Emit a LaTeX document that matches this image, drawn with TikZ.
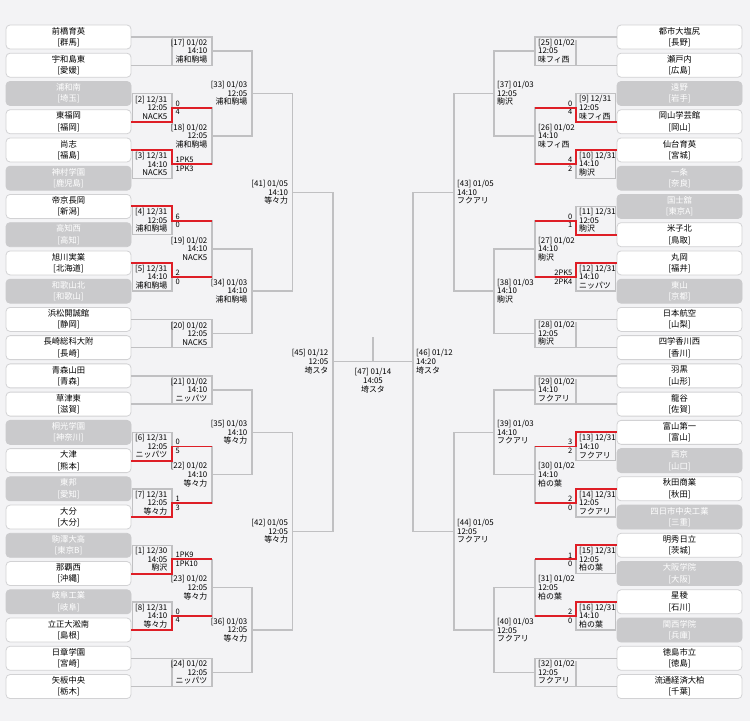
\documentclass[tikz,border=0pt]{standalone}
\usepackage{fontspec}
\newfontfamily\jp{Noto Sans CJK JP}
\usetikzlibrary{calc}
\definecolor{bg}{RGB}{243,243,245}
\definecolor{ln}{RGB}{192,192,194}
\definecolor{rd}{RGB}{222,30,38}
\definecolor{bx}{RGB}{210,210,212}
\definecolor{lose}{RGB}{202,202,204}
\pgfdeclarelayer{fg}
\pgfsetlayers{main,fg}
\newcommand\ty[1]{{37+28.24*(#1)}}
\tikzset{
 tbox/.style={draw=bx, fill=white, rounded corners=4pt, minimum width=125pt, minimum height=24pt,
   inner sep=0pt, align=center, font=\jp\fontsize{8.3}{11.3}\selectfont, line width=0.8pt},
 tlose/.style={tbox, fill=lose, draw=lose, text=white},
 gl/.style={draw=ln, line width=1.4pt},
 rl/.style={draw=rd, line width=1.9pt},
 lbl/.style={font=\jp\fontsize{7.9}{8.6}\selectfont, inner sep=0pt},
 sc/.style={font=\jp\fontsize{7.5}{8}\selectfont, inner sep=0pt}
}
% left first round: id, row a, winner row, date, time, venue, score a, score b
\newcommand\lone[8]{%
  \coordinate (m#1) at (172,\ty{#2+0.5});
  \draw[gl] ([xshift=1pt]L#2.east) rectangle (172,\ty{#2+1});
  \begin{pgfonlayer}{fg}
  \draw[rl] (L#3.east) -- (L#3.east -| m#1) -- (m#1) -- (m#1 -| xl2);
  \end{pgfonlayer}
  \node[lbl,anchor=east,align=right] (lb#1) at ([xshift=-4.5pt]m#1) {[#1] #4\\#5\\#6};
  \node[sc,anchor=south west] (sa#1) at ([xshift=3.5pt,yshift=1.2pt]m#1) {#7};
  \node[sc,anchor=north west] (sb#1) at ([xshift=3.5pt,yshift=-1.5pt]m#1) {#8};
}
\newcommand\lbye[6]{%
  \coordinate (m#1) at (212,\ty{#2+0.5});
  \draw[gl] (L#2.east) -- (L#2.east -| xl2) -- (L#3.east -| xl2) -- (L#3.east);
  \draw[gl] ([yshift=-3pt]L#2.east -| xl1) -- (L#3.east -| xl1);
  \node[lbl,anchor=east,align=right] (lb#1) at ([xshift=-4.5pt]m#1) {[#1] #4\\#5\\#6};
}
\newcommand\lmatch[7]{%
  \coordinate (m#1) at ($(m#2 -| #4)!0.5!(m#3 -| #4)$);
  \draw[gl] (m#2) -- (m#2 -| #4) -- (m#3 -| #4) -- (m#3);
  \node[lbl,anchor=east,align=right] (lb#1) at ([xshift=-4.5pt]m#1) {[#1] #5\\#6\\#7};
}
\newcommand\rone[8]{%
  \coordinate (m#1) at (576,\ty{#2+0.5});
  \draw[gl] ([xshift=-1pt]R#2.west) rectangle (576,\ty{#2+1});
  \begin{pgfonlayer}{fg}
  \draw[rl] (R#3.west) -- (R#3.west -| m#1) -- (m#1) -- (m#1 -| xr2);
  \end{pgfonlayer}
  \node[lbl,anchor=west,align=left] (lb#1) at ([xshift=3pt]m#1) {[#1] #4\\#5\\#6};
  \node[sc,anchor=south east] (sa#1) at ([xshift=-3.5pt,yshift=1.2pt]m#1) {#7};
  \node[sc,anchor=north east] (sb#1) at ([xshift=-3.5pt,yshift=-1.5pt]m#1) {#8};
}
\newcommand\rbye[6]{%
  \coordinate (m#1) at (535,\ty{#2+0.5});
  \draw[gl] (R#2.west) -- (R#2.west -| xr2) -- (R#3.west -| xr2) -- (R#3.west);
  \draw[gl] ([yshift=-3pt]R#2.west -| xr1) -- (R#3.west -| xr1);
  \node[lbl,anchor=west,align=left] (lb#1) at ([xshift=3pt]m#1) {[#1] #4\\#5\\#6};
}
\newcommand\rmatch[7]{%
  \coordinate (m#1) at ($(m#2 -| #4)!0.5!(m#3 -| #4)$);
  \draw[gl] (m#2) -- (m#2 -| #4) -- (m#3 -| #4) -- (m#3);
  \node[lbl,anchor=west,align=left] (lb#1) at ([xshift=3pt]m#1) {[#1] #5\\#6\\#7};
}
\begin{document}
\begin{tikzpicture}[x=1pt,y=-1pt]
\fill[bg] (0,0) rectangle (750,721);
\useasboundingbox (0,0) rectangle (750,721);
\coordinate (xl1) at (172,0); \coordinate (xl2) at (212,0); \coordinate (xl3) at (252,0);
\coordinate (xl4) at (292.7,0); \coordinate (xl5) at (333,0);
\coordinate (xr1) at (576,0); \coordinate (xr2) at (535,0); \coordinate (xr3) at (494,0);
\coordinate (xr4) at (454,0); \coordinate (xr5) at (413,0);
% teams left
\foreach \ii/\nm/\pf/\st in {0/前橋育英/群馬/tbox,1/宇和島東/愛媛/tbox,2/浦和南/埼玉/tlose,3/東福岡/福岡/tbox,
 4/尚志/福島/tbox,5/神村学園/鹿児島/tlose,6/帝京長岡/新潟/tbox,7/高知西/高知/tlose,8/旭川実業/北海道/tbox,
 9/和歌山北/和歌山/tlose,10/浜松開誠館/静岡/tbox,11/長崎総科大附/長崎/tbox,12/青森山田/青森/tbox,
 13/草津東/滋賀/tbox,14/桐光学園/神奈川/tlose,15/大津/熊本/tbox,16/東邦/愛知/tlose,17/大分/大分/tbox,
 18/駒澤大高/東京B/tlose,19/那覇西/沖縄/tbox,20/岐阜工業/岐阜/tlose,21/立正大淞南/島根/tbox,
 22/日章学園/宮崎/tbox,23/矢板中央/栃木/tbox}
 {\pgfmathsetmacro\yy{37+28.24*\ii}
  \node[\st] (L\ii) at (68.5,\yy) {\nm\\{}[\pf]};}
% teams right
\foreach \ii/\nm/\pf/\st in {0/都市大塩尻/長野/tbox,1/瀬戸内/広島/tbox,2/遠野/岩手/tlose,3/岡山学芸館/岡山/tbox,
 4/仙台育英/宮城/tbox,5/一条/奈良/tlose,6/国士舘/東京A/tlose,7/米子北/鳥取/tbox,8/丸岡/福井/tbox,
 9/東山/京都/tlose,10/日本航空/山梨/tbox,11/四学香川西/香川/tbox,12/羽黒/山形/tbox,13/龍谷/佐賀/tbox,
 14/富山第一/富山/tbox,15/西京/山口/tlose,16/秋田商業/秋田/tbox,17/四日市中央工業/三重/tlose,
 18/明秀日立/茨城/tbox,19/大阪学院/大阪/tlose,20/星稜/石川/tbox,21/関西学院/兵庫/tlose,
 22/徳島市立/徳島/tbox,23/流通経済大柏/千葉/tbox}
 {\pgfmathsetmacro\yy{37+28.24*\ii}
  \node[\st] (R\ii) at (679.5,\yy) {\nm\\{}[\pf]};}
% left bracket
\lbye{17}{0}{1}{01/02}{14:10}{浦和駒場}
\lone{2}{2}{3}{12/31}{12:05}{NACK5}{0}{4}
\lone{3}{4}{4}{12/31}{14:10}{NACK5}{1PK5}{1PK3}
\lmatch{18}{2}{3}{xl2}{01/02}{12:05}{浦和駒場}
\lone{4}{6}{6}{12/31}{12:05}{浦和駒場}{6}{0}
\lone{5}{8}{8}{12/31}{14:10}{浦和駒場}{2}{0}
\lmatch{19}{4}{5}{xl2}{01/02}{14:10}{NACK5}
\lbye{20}{10}{11}{01/02}{12:05}{NACK5}
\lbye{21}{12}{13}{01/02}{14:10}{ニッパツ}
\lone{6}{14}{15}{12/31}{12:05}{ニッパツ}{0}{5}
\lone{7}{16}{17}{12/31}{12:05}{等々力}{1}{3}
\lmatch{22}{6}{7}{xl2}{01/02}{14:10}{等々力}
\lone{1}{18}{19}{12/30}{14:05}{駒沢}{1PK9}{1PK10}
\lone{8}{20}{21}{12/31}{14:10}{等々力}{0}{4}
\lmatch{23}{1}{8}{xl2}{01/02}{12:05}{等々力}
\lbye{24}{22}{23}{01/02}{12:05}{ニッパツ}
\lmatch{33}{17}{18}{xl3}{01/03}{12:05}{浦和駒場}
\lmatch{34}{19}{20}{xl3}{01/03}{14:10}{浦和駒場}
\lmatch{35}{21}{22}{xl3}{01/03}{14:10}{等々力}
\lmatch{36}{23}{24}{xl3}{01/03}{12:05}{等々力}
\lmatch{41}{33}{34}{xl4}{01/05}{14:10}{等々力}
\lmatch{42}{35}{36}{xl4}{01/05}{12:05}{等々力}
\lmatch{45}{41}{42}{xl5}{01/12}{12:05}{埼スタ}
% right bracket
\rbye{25}{0}{1}{01/02}{12:05}{味フィ西}
\rone{9}{2}{3}{12/31}{12:05}{味フィ西}{0}{4}
\rone{10}{4}{4}{12/31}{14:10}{駒沢}{4}{2}
\rmatch{26}{9}{10}{xr2}{01/02}{14:10}{味フィ西}
\rone{11}{6}{7}{12/31}{12:05}{駒沢}{0}{1}
\rone{12}{8}{8}{12/31}{14:10}{ニッパツ}{2PK5}{2PK4}
\rmatch{27}{11}{12}{xr2}{01/02}{14:10}{駒沢}
\rbye{28}{10}{11}{01/02}{12:05}{駒沢}
\rbye{29}{12}{13}{01/02}{14:10}{フクアリ}
\rone{13}{14}{14}{12/31}{14:10}{フクアリ}{3}{2}
\rone{14}{16}{16}{12/31}{12:05}{フクアリ}{2}{0}
\rmatch{30}{13}{14}{xr2}{01/02}{14:10}{柏の葉}
\rone{15}{18}{18}{12/31}{12:05}{柏の葉}{1}{0}
\rone{16}{20}{20}{12/31}{14:10}{柏の葉}{2}{0}
\rmatch{31}{15}{16}{xr2}{01/02}{12:05}{柏の葉}
\rbye{32}{22}{23}{01/02}{12:05}{フクアリ}
\rmatch{37}{25}{26}{xr3}{01/03}{12:05}{駒沢}
\rmatch{38}{27}{28}{xr3}{01/03}{14:10}{駒沢}
\rmatch{39}{29}{30}{xr3}{01/03}{14:10}{フクアリ}
\rmatch{40}{31}{32}{xr3}{01/03}{12:05}{フクアリ}
\rmatch{43}{37}{38}{xr4}{01/05}{14:10}{フクアリ}
\rmatch{44}{39}{40}{xr4}{01/05}{12:05}{フクアリ}
\rmatch{46}{43}{44}{xr5}{01/12}{14:20}{埼スタ}
% final
\coordinate (fin) at (373,337);
\draw[gl] (m45) -- (m46);
\draw[gl] (fin) -- (fin |- m45);
\node[lbl,anchor=north,align=center] (lb47) at (373,368.5) {[47] 01/14\\14:05\\埼スタ};
\end{tikzpicture}
\end{document}
